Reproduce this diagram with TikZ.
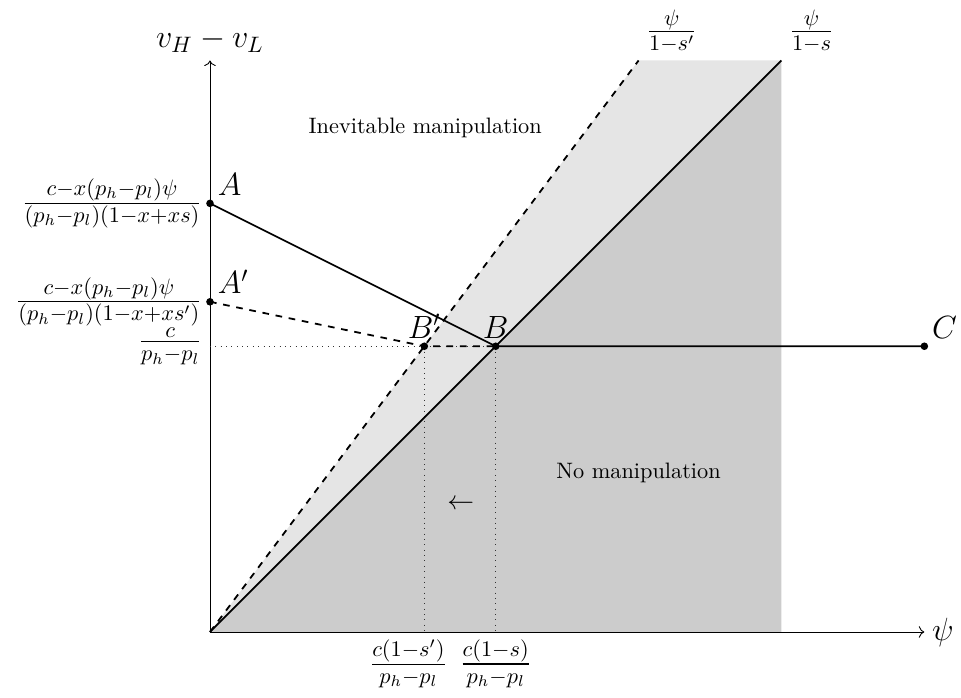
\documentclass[tikz,border=0pt]{standalone}
\usepackage{amsmath,amssymb}
\usepackage{xcolor}
\usepackage{tikz}
\usetikzlibrary{positioning,arrows.meta}

\begin{document}
\begin{tikzpicture}[
    font=\normalsize,
    axis/.style={->, black},
    curve/.style={thick, black},
    guide/.style={dotted, black!80},
    pt/.style={circle, fill=black, inner sep=0pt, minimum size=3.4pt},
    mlab/.style={font=\Large},
    zoneA/.style={fill=gray!20},
    zoneB/.style={fill=gray!40}
  ]
    \useasboundingbox (-3.307,-1.039) rectangle (11.827,9.953);
    % corner points
    \coordinate (O) at (0,0);
    \coordinate (xend) at (11.25,0);
    \coordinate (yend) at (0,9);
    \coordinate (top) at (9,9);
    \coordinate (topp) at (6.75,9);
    \coordinate (base) at (9,0);
    \coordinate (ylev) at (0,4.5);
    \coordinate (Bx) at (4.5,0);
    \coordinate (Bpx) at (3.375,0);
    % shaded zones
    \fill[zoneA] (O) -- (topp) -- (top) -- cycle;
    \fill[zoneB] (O) -- (top) -- (base) -- cycle;
    % axes
    \draw[axis] (O) -- (xend) node[right, mlab] (psilab) {$\psi$};
    \draw[axis] (O) -- (yend) node[above, mlab] (vlab) {$v_H - v_L$};
    % points
    \node[pt] (A) at (0,6.75) {};
    \node[pt] (Ap) at (0,5.2) {};
    \node[pt] (B) at (4.5,4.5) {};
    \node[pt] (Bp) at (3.375,4.5) {};
    \node[pt] (C) at (11.25,4.5) {};
    % guides
    \draw[guide] (ylev) -- (B.center);
    \draw[guide] (Bp.center) -- (Bpx);
    \draw[guide] (B.center) -- (Bx);
    % lines
    \draw[curve] (O) -- (top);
    \draw[curve, dashed] (O) -- (topp);
    \draw[curve] (A.center) -- (B.center) -- (C.center);
    \draw[curve, dashed] (Ap.center) -- (Bp.center) -- (B.center);
    % point labels
    \node[mlab, above right] (Alab) at (A.center) {$A$};
    \node[mlab, above right] (Aplab) at (Ap.center) {$A'$};
    \node[mlab, above] (Blab) at (B.center) {$B$};
    \node[mlab, above] (Bplab) at (Bp.center) {$B'$};
    \node[mlab, above right] (Clab) at (C.center) {$C$};
    % axis values
    \node[mlab, left] (Aval) at (A.center) {$\frac{c-x(p_h-p_l)\psi}{(p_h-p_l)(1-x+xs)}$};
    \node[mlab, left] (Apval) at (Ap.center) {$\frac{c-x(p_h-p_l)\psi}{(p_h-p_l)(1-x+xs')}$};
    \node[mlab, left] (cval) at (ylev) {$\frac{c}{p_h-p_l}$};
    \node[mlab, below, xshift=-0.25cm] (Bpval) at (Bpx) {$\frac{c(1-s')}{p_h-p_l}$};
    \node[mlab, below] (Bval) at (Bx) {$\frac{c(1-s)}{p_h-p_l}$};
    \node[mlab, above right] (toppval) at (topp) {$\frac{\psi}{1-s'}$};
    \node[mlab, above right] (topval) at (top) {$\frac{\psi}{1-s}$};
    % zone texts
    \node (inev) at (3.39,7.94) {Inevitable manipulation};
    \node (noman) at (6.75,2.5) {No manipulation};
    \node[font=\large] (shift) at (3.95,2) {$\leftarrow$};
\end{tikzpicture}
\end{document}
